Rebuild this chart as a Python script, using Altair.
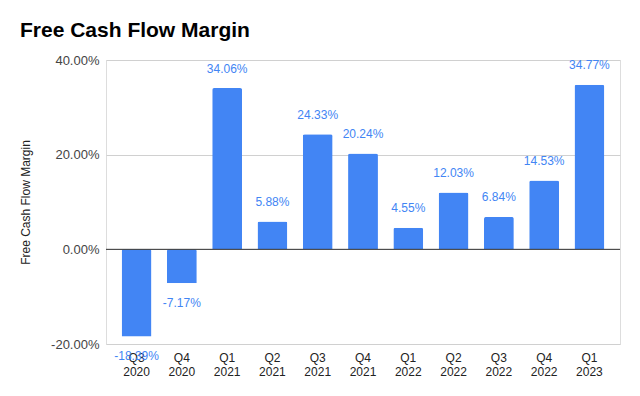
import altair as alt
import pandas as pd

quarters = ["Q3 2020", "Q4 2020", "Q1 2021", "Q2 2021", "Q3 2021", "Q4 2021",
            "Q1 2022", "Q2 2022", "Q3 2022", "Q4 2022", "Q1 2023"]
margin_pct = [-18.39, -7.17, 34.06, 5.88, 24.33, 20.24, 4.55, 12.03, 6.84, 14.53, 34.77]
y_ticks = [-0.2, 0.0, 0.2, 0.4]

df = pd.DataFrame({"quarter": quarters, "margin": [v / 100 for v in margin_pct]})

FONT = "Liberation Sans"
BLUE = "#4285F4"
MINUS = "\u2212"

x_enc = alt.X("quarter:N", sort=None, title=None,
              scale=alt.Scale(paddingInner=0.34, paddingOuter=0.345),
              axis=alt.Axis(labelExpr="split(datum.label, ' ')", labelAngle=0,
                            labelFontSize=12, labelColor="#222222", labelFont=FONT,
                            labelLineHeight=14, labelPadding=8, domain=False, ticks=False,
                            labelBaseline="top"))
y_scale = alt.Scale(domain=[-0.2, 0.4], nice=False, zero=False)

bars = alt.Chart(df).mark_bar(color=BLUE, cornerRadiusEnd=2).encode(
    x=x_enc,
    y=alt.Y("margin:Q", scale=y_scale, title="Free Cash Flow Margin",
            axis=alt.Axis(values=y_ticks, format=".2%",
                          labelExpr=f"replace(datum.label, '{MINUS}', '-')",
                          labelFontSize=13, labelColor="#444444", labelFont=FONT,
                          labelPadding=7, domain=False, ticks=False, gridColor="#d0d0d0",
                          titleFont=FONT, titleFontSize=12, titleFontWeight="normal",
                          titleColor="#222222", titleX=-81, titleY=142,
                          titleAngle=-90, titleBaseline="middle", titleAlign="center")),
)

zero = alt.Chart(pd.DataFrame({"z": [0.0]})).mark_rule(color="#333333", strokeWidth=1).encode(
    y=alt.Y("z:Q", scale=y_scale)
)

label_base = alt.Chart(df).transform_calculate(
    lbl=f"replace(format(datum.margin, '.2%'), '{MINUS}', '-')"
)

pos_labels = label_base.transform_filter("datum.margin >= 0").mark_text(
    color=BLUE, fontSize=12, font=FONT, baseline="middle", dy=-19.5
).encode(x=alt.X("quarter:N", sort=None), y=alt.Y("margin:Q", scale=y_scale),
         text="lbl:N")

neg_labels = label_base.transform_filter("datum.margin < 0").mark_text(
    color=BLUE, fontSize=12, font=FONT, baseline="middle", dy=19.5
).encode(x=alt.X("quarter:N", sort=None), y=alt.Y("margin:Q", scale=y_scale),
         text="lbl:N")

chart = alt.layer(bars, zero, pos_labels, neg_labels).properties(
    width=514, height=284,
    autosize=alt.AutoSizeParams(type="none"),
    padding={"left": 98, "top": 52, "right": 12, "bottom": 44},
    title=alt.TitleParams("Free Cash Flow Margin", anchor="start", frame="group",
                          font=FONT, fontSize=21, fontWeight="bold", color="#000000",
                          dx=-86, dy=22, offset=18, baseline="alphabetic"),
).configure_view(stroke=None).configure(background="white")

chart.save("out.html", embed_options={"renderer": "svg", "actions": False})
